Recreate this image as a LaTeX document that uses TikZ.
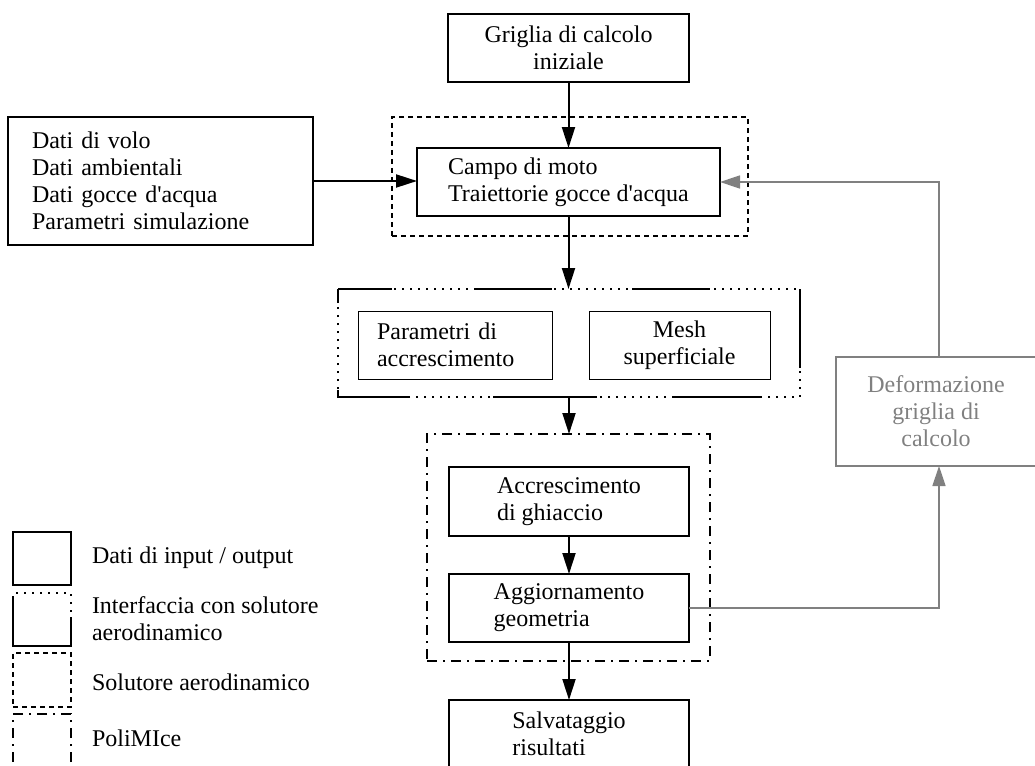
\documentclass[tikz,border=0pt]{standalone}
\usepackage{fontspec}
\setmainfont{Liberation Serif}[Ligatures=TeXOff]
\usetikzlibrary{arrows.meta}
\definecolor{gr}{HTML}{808080}
\begin{document}
\begin{tikzpicture}[x=1pt,y=-1pt,
  font=\fontsize{24}{27}\selectfont,
  every node/.style={inner sep=0pt, outer sep=0pt},
  iobox/.style={draw, line width=2pt},
  thinbox/.style={draw, line width=1pt},
  graybox/.style={draw=gr, text=gr, line width=2pt},
  arr/.style={line width=2pt, -{Triangle[length=21pt,width=13pt]}},
  garr/.style={draw=gr, line width=1.6pt, -{Triangle[length=20pt,width=13pt]}},
  solver/.style={draw, line width=2pt, dash pattern=on 5pt off 4pt},
  poli/.style={draw, line width=2pt, dash pattern=on 10pt off 6pt on 2pt off 6pt},
  dots/.style={line width=2pt, dash pattern=on 2pt off 6pt},
  intfsolid/.style={line width=2pt, dash pattern=on 68pt off 83pt on 77pt off 80pt on 78pt off 90pt on 79pt off 69pt on 88pt off 75pt on 104pt off 85pt on 77pt off 87pt, dash phase=14pt}
]
\useasboundingbox (0,0) rectangle (1035,765);
\clip (0,0) rectangle (1035,765);

% containers
\node[solver, minimum width=356pt, minimum height=119pt] (solv) at (570,176.5) {};
\node[minimum width=462pt, minimum height=108pt] (intf) at (569,343) {};
\draw[dots] (intf.north west) -- (intf.north east) -- (intf.south east) -- (intf.south west) -- cycle;
\draw[intfsolid] (intf.north west) -- (intf.north east) -- (intf.south east) -- (intf.south west) -- cycle;
\node[poli, minimum width=283pt, minimum height=227pt] (poli) at (568.5,547.5) {};

% boxes
\node[iobox, minimum width=241pt, minimum height=68pt, align=center] (grid) at (568.5,48) {Griglia di calcolo\\iniziale};
\node[iobox, minimum width=303pt, minimum height=68pt, align=left] (campo) at (568.5,182) {Campo di moto\\Traiettorie gocce d'acqua};
\node[iobox, minimum width=305pt, minimum height=128pt, text width=257pt, inner xsep=24pt, align=left] (dati) at (160.5,181) {Dati di volo\\Dati ambientali\\Dati gocce d'acqua\\Parametri simulazione};
\node[thinbox, minimum width=194pt, minimum height=68pt, text width=156pt, inner xsep=19pt, align=left] (param) at (455,345) {Parametri di\\accrescimento};
\node[thinbox, minimum width=181pt, minimum height=68pt, align=center] (mesh) at (679.5,345) {Mesh\\superficiale};
\node[iobox, minimum width=240pt, minimum height=69pt, align=left] (accr) at (569,501.5) {Accrescimento\\di ghiaccio};
\node[iobox, minimum width=240pt, minimum height=68pt, align=left] (aggio) at (569,608) {Aggiornamento\\geometria};
\node[iobox, minimum width=240pt, minimum height=68pt, align=left] (salv) at (569,734) {Salvataggio\\risultati};
\node[graybox, minimum width=200pt, minimum height=109pt, align=center] (defo) at (936,411.5) {Deformazione\\griglia di\\calcolo};

% connectors
\draw[arr] (grid.south) -- (campo.north);
\draw[arr] (dati.east) -- (campo.west |- dati.east);
\draw[arr] (campo.south) -- (campo.south |- intf.north);
\draw[arr] (intf.south) -- (intf.south |- poli.north);
\draw[arr] (accr.south) -- (aggio.north);
\draw[arr] (aggio.south) -- (salv.north);
\coordinate (gx) at (939,0);
\draw[garr] (defo.north -| gx) |- (campo.east);
\draw[garr] (aggio.east) -| (defo.south -| gx);

% legend
\node[iobox, minimum width=58pt, minimum height=53pt] (L1) at (42,558.5) {};
\node[minimum width=58pt, minimum height=53pt] (L2) at (42,619.5) {};
\draw[dots] ([yshift=-5pt]L2.north west) -- (L2.north west) -- (L2.north east) -- ([yshift=-24pt]L2.north east);
\draw[line width=2pt] ([yshift=-24pt]L2.north east) -- (L2.south east) -- (L2.south west) -- ([yshift=-5pt]L2.north west);
\node[solver, minimum width=58pt, minimum height=54pt] (L3) at (42,680) {};
\node[poli, minimum width=58pt, minimum height=62pt] (L4) at (42,745) {};
\node[anchor=west] (t1) at (92,558) {Dati di input / output};
\node[anchor=west, align=left] (t2) at (92,619) {Interfaccia con solutore\\aerodinamico};
\node[anchor=west] (t3) at (92,682) {Solutore aerodinamico};
\node[anchor=west] (t4) at (92,738) {PoliMIce};
\end{tikzpicture}
\end{document}
